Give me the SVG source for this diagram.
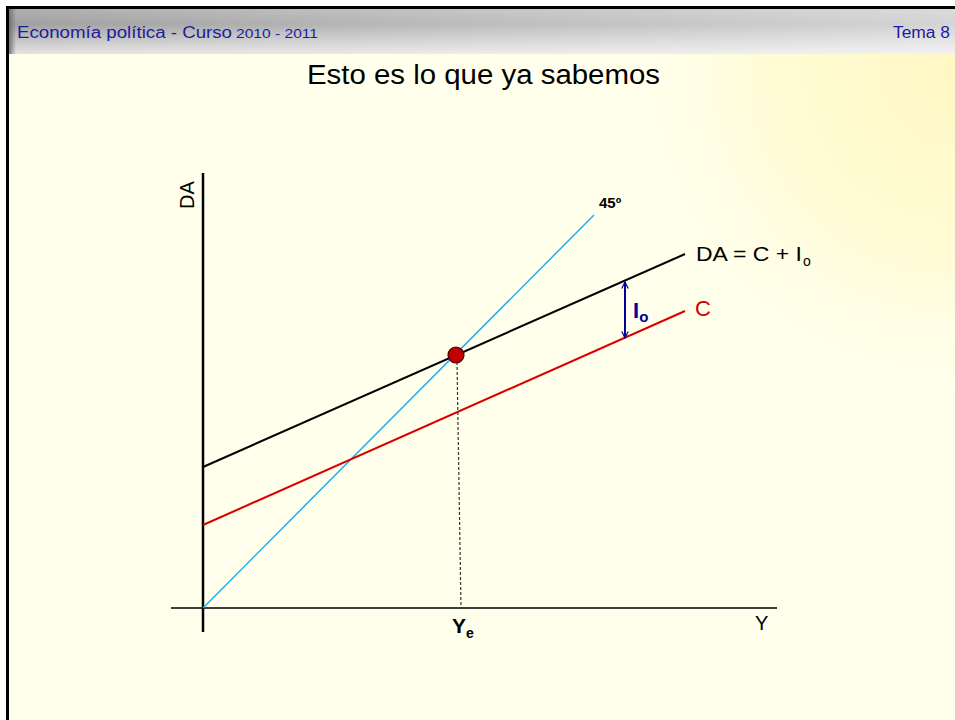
<svg xmlns="http://www.w3.org/2000/svg" width="955" height="720" viewBox="0 0 955 720">
  <defs>
    <linearGradient id="hdrV" x1="0" y1="0" x2="0" y2="1">
      <stop offset="0" stop-color="#b0b0b0"/>
      <stop offset="0.35" stop-color="#a0a0a0"/>
      <stop offset="1" stop-color="#e4e4e4"/>
    </linearGradient>
    <linearGradient id="hdrH" x1="0" y1="0" x2="1" y2="0">
      <stop offset="0" stop-color="#ffffff" stop-opacity="0"/>
      <stop offset="0.5" stop-color="#ffffff" stop-opacity="0.3"/>
      <stop offset="1" stop-color="#ffffff" stop-opacity="0.55"/>
    </linearGradient>
    <linearGradient id="hdrEdge" x1="0" y1="0" x2="1" y2="0">
      <stop offset="0" stop-color="#6a6a6a"/>
      <stop offset="1" stop-color="#6a6a6a" stop-opacity="0"/>
    </linearGradient>
    <radialGradient id="bgGlow" cx="955" cy="70" r="360" gradientUnits="userSpaceOnUse">
      <stop offset="0" stop-color="#fff8c4"/>
      <stop offset="0.5" stop-color="#fffbd4"/>
      <stop offset="1" stop-color="#ffffec" stop-opacity="0"/>
    </radialGradient>
    <marker id="arr" viewBox="0 0 10 10" refX="9" refY="5" markerWidth="8" markerHeight="8" orient="auto-start-reverse" markerUnits="userSpaceOnUse">
      <path d="M1,1 L9,5 L1,9" fill="none" stroke="#000099" stroke-width="1.5"/>
    </marker>
    <style>
      .hdr { font-family: "Liberation Sans", Arial, sans-serif; fill: #1c1ca0; }
      .txt { font-family: "Liberation Sans", Arial, sans-serif; }
      .axis { stroke: #000; fill: none; }
    </style>
  </defs>

  <!-- background -->
  <rect x="0" y="0" width="955" height="720" fill="#ffffff"/>
  <rect x="8" y="54" width="947" height="666" fill="#ffffec"/>
  <rect x="8" y="54" width="947" height="666" fill="url(#bgGlow)"/>

  <!-- header -->
  <rect x="8" y="8" width="947" height="46" fill="url(#hdrV)"/>
  <rect x="8" y="8" width="947" height="46" fill="url(#hdrH)"/>
  <rect x="8" y="8" width="8" height="46" fill="url(#hdrEdge)"/>
  <rect x="6" y="6" width="949" height="3" fill="#000"/>
  <rect x="6" y="6" width="3" height="714" fill="#000"/>

  <g id="header-left">
    <text class="hdr" x="17" y="38" font-size="16" textLength="215" lengthAdjust="spacingAndGlyphs">Economía política - Curso</text>
    <text class="hdr" x="236" y="38" font-size="13" textLength="82" lengthAdjust="spacingAndGlyphs">2010 - 2011</text>
  </g>
  <g id="header-right">
    <text class="hdr" x="893" y="38" font-size="16" textLength="57" lengthAdjust="spacingAndGlyphs">Tema 8</text>
  </g>

  <g id="title">
    <text class="txt" x="307" y="84" font-size="27" textLength="353" lengthAdjust="spacingAndGlyphs" fill="#000">Esto es lo que ya sabemos</text>
  </g>

  <!-- axes -->
  <g id="axes">
    <line class="axis" x1="203" y1="173" x2="203" y2="632" stroke-width="2.5"/>
    <line class="axis" x1="171" y1="608" x2="777" y2="608" stroke-width="1.5"/>
    <text class="txt" transform="translate(194,195) rotate(-90)" font-size="20" text-anchor="middle" fill="#000">DA</text>
    <text class="txt" x="755" y="630" font-size="20" fill="#000">Y</text>
  </g>

  <g id="connectors">
    <line id="line45" x1="203" y1="608" x2="594" y2="215" stroke="#1ab2f0" stroke-width="1.5"/>
    <line id="lineDA" x1="203" y1="467" x2="685" y2="254" stroke="#000" stroke-width="2"/>
    <line id="lineC" x1="203" y1="525" x2="685" y2="311" stroke="#d80000" stroke-width="2"/>
    <line id="dash" x1="457" y1="362" x2="461" y2="608" stroke="#333" stroke-width="1.2" stroke-dasharray="3,2"/>
    <line id="arrowIo" x1="625" y1="282" x2="625" y2="338" stroke="#000099" stroke-width="2" marker-start="url(#arr)" marker-end="url(#arr)"/>
  </g>

  <g id="equilibrium">
    <circle cx="456" cy="355" r="8" fill="#c00000" stroke="#400000" stroke-width="1.2"/>
  </g>

  <g id="label45">
    <text class="txt" x="599" y="208" font-size="15" font-weight="bold" fill="#000">45º</text>
  </g>
  <g id="labelDA">
    <text class="txt" x="696" y="261" font-size="21" textLength="106" lengthAdjust="spacingAndGlyphs" fill="#000">DA = C + I</text>
    <text class="txt" x="803" y="266" font-size="14" fill="#000">o</text>
  </g>
  <g id="labelC">
    <text class="txt" x="695" y="316" font-size="22" fill="#cc0000">C</text>
  </g>
  <g id="labelIo">
    <text class="txt" x="633" y="318" font-size="22" font-weight="bold" fill="#000099">I<tspan font-size="15" dy="4">o</tspan></text>
  </g>
  <g id="labelYe">
    <text class="txt" x="452" y="633" font-size="21" font-weight="bold" fill="#000">Y<tspan font-size="14" dy="5">e</tspan></text>
  </g>
</svg>
